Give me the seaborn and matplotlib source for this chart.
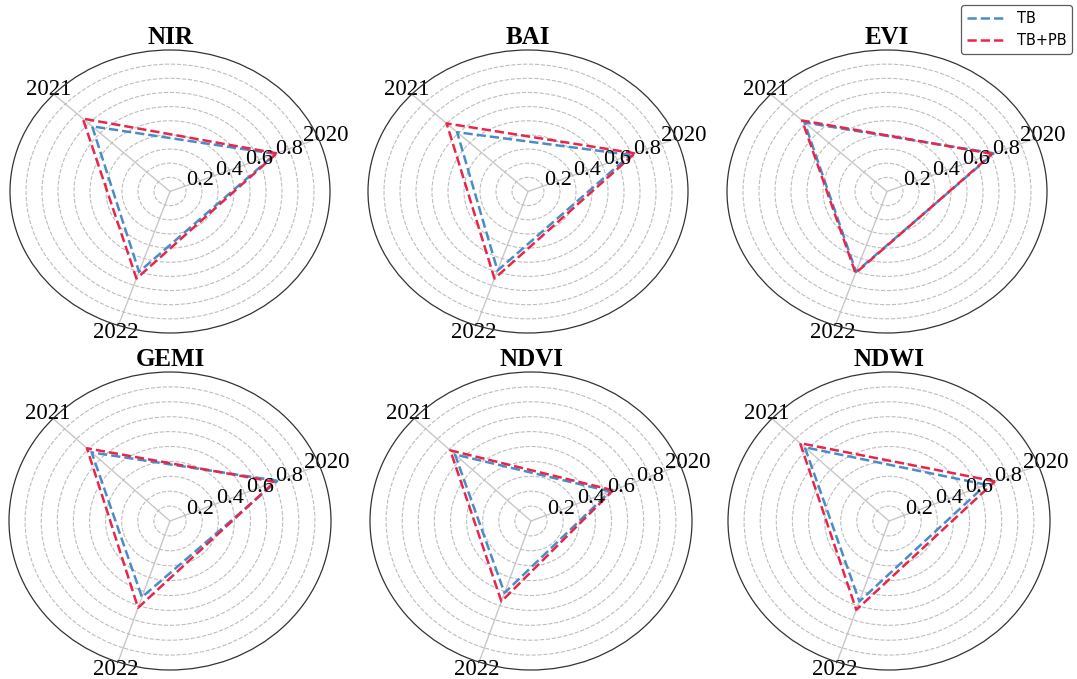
import numpy as np
import pandas as pd
import matplotlib
matplotlib.use("Agg")
import matplotlib.pyplot as plt
import seaborn as sns

# ---- data -------------------------------------------------------------
years = ["2020", "2021", "2022"]
indices = ["NIR", "BAI", "EVI", "GEMI", "NDVI", "NDWI"]

tb_nir = [0.71, 0.67, 0.60]
tbpb_nir = [0.72, 0.75, 0.65]
tb_bai = [0.69, 0.61, 0.59]
tbpb_bai = [0.72, 0.70, 0.65]
tb_evi = [0.72, 0.71, 0.60]
tbpb_evi = [0.71, 0.73, 0.61]
tb_gemi = [0.72, 0.67, 0.54]
tbpb_gemi = [0.70, 0.71, 0.615]
tb_ndvi = [0.53, 0.65, 0.51]
tbpb_ndvi = [0.55, 0.69, 0.57]
tb_ndwi = [0.65, 0.72, 0.57]
tbpb_ndwi = [0.71, 0.76, 0.63]

tb_values = [tb_nir, tb_bai, tb_evi, tb_gemi, tb_ndvi, tb_ndwi]
tbpb_values = [tbpb_nir, tbpb_bai, tbpb_evi, tbpb_gemi, tbpb_ndvi, tbpb_ndwi]

series_names = ["TB", "TB+PB"]
series_colors = ["#4a8cc6", "#e8254b"]

# ---- style ------------------------------------------------------------
sns.set_theme(style="white")
plt.rcParams["font.family"] = ["Liberation Serif", "DejaVu Serif"]
plt.rcParams["text.color"] = "black"
plt.rcParams["xtick.color"] = "black"
plt.rcParams["ytick.color"] = "black"
plt.rcParams["xtick.major.size"] = 0
plt.rcParams["ytick.major.size"] = 0

W, H = 1077, 679
fig = plt.figure(figsize=(W / 100, H / 100), dpi=100)

# spoke angles (radians) for the three years; the whole chart is rotated
# so that the first spoke sits at 22 degrees
theta = 2.0 * np.arange(len(years))
theta_closed = np.append(theta, theta[0])
theta_offset = np.deg2rad(22.0)

# axes boxes in pixels: left, top, width, height
boxes = [
    (10, 50, 320, 283), (368, 50, 320, 283), (727, 50, 320, 283),
    (9, 372, 322, 298), (370, 372, 322, 298), (728, 372, 322, 298),
]

rticks = np.round(np.arange(0.1, 1.0, 0.1), 1)
labelled_r = [0.2, 0.4, 0.6, 0.8]

handles = None
for name, box, v_tb, v_tbpb in zip(indices, boxes, tb_values, tbpb_values):
    l, t, w, h = box
    ax = fig.add_axes([l / W, 1 - (t + h) / H, w / W, h / H], projection="polar")
    ax.set_aspect("auto")
    ax.set_theta_offset(theta_offset)

    for vals, lab, col in zip([v_tb, v_tbpb], series_names, series_colors):
        df = pd.DataFrame({"theta": theta_closed, "r": np.append(vals, vals[0])})
        sns.lineplot(data=df, x="theta", y="r", ax=ax, sort=False, estimator=None,
                     color=col, linestyle="--", linewidth=1.8, label=lab)

    if handles is None:
        handles, labels = ax.get_legend_handles_labels()
    ax.get_legend().remove()

    ax.set_ylim(0, 1.0)
    ax.set_yticks(rticks)
    ax.set_yticklabels([])
    for r in labelled_r:
        ax.text(0.0, r, f"{r:.1f}", ha="center", va="center",
                fontsize=16, color="black", zorder=5)
    ax.set_xticks(theta)
    ax.set_xticklabels(years, fontsize=16.5)
    ax.tick_params(axis="x", pad=-1.5, length=0)
    ax.tick_params(axis="y", length=0)
    ax.set_xlabel("")
    ax.set_ylabel("")
    ax.yaxis.grid(True, linestyle="--", color="#bdbdbd", linewidth=0.8)
    ax.xaxis.grid(True, linestyle="-", color="#c8c8c8", linewidth=1.0)
    ax.spines["polar"].set_color("#333333")
    ax.spines["polar"].set_linewidth(0.9)
    ax.set_title(name, fontsize=18, fontweight="bold", pad=4)

leg = fig.legend(handles, series_names, loc="upper right",
                 bbox_to_anchor=(1072 / W, 1 - 5 / H), borderaxespad=0,
                 prop={"family": "DejaVu Sans", "size": 10.5},
                 frameon=True, fancybox=True, edgecolor="#333333",
                 handlelength=2.6)
leg.get_frame().set_linewidth(0.9)

fig.savefig("out.png", dpi=100)
